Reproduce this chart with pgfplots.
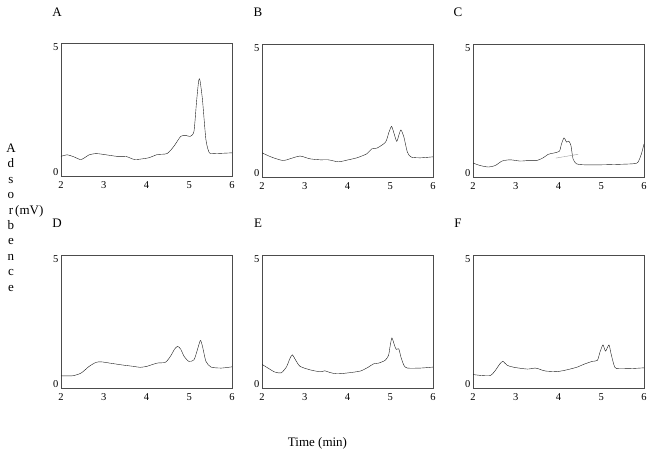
\documentclass[border=0pt]{standalone}
\usepackage{fontspec}
\setmainfont{Liberation Serif}
\usepackage{pgfplots}
\pgfplotsset{compat=1.18}

\pgfplotsset{
  chrom/.style={
    scale only axis, width=171pt, height=133pt,
    anchor=south west,
    xmin=2, xmax=6, ymin=-0.17, ymax=5.17,
    xtick={2,3,4,5,6}, ytick={0,5},
    major tick length=0pt,
    axis line style={draw=black!70, line width=0.6pt},
    tick label style={font=\fontsize{10.5}{12}\selectfont},
    /pgf/number format/assume math mode=true,
    xticklabel style={yshift=-2pt},
    yticklabel style={xshift=1pt},
    cycle list={{black!90, no marks, line width=0.7pt}},
    every axis plot/.append style={smooth, tension=0.4},
  },
}

\begin{document}
\begin{tikzpicture}
\useasboundingbox (0,0) rectangle (654pt,454pt);

% A
\begin{axis}[chrom, at={(61pt,278pt)}]
\addplot coordinates {(2,0.62) (2.15,0.68) (2.30,0.60) (2.47,0.49) (2.66,0.68) (2.82,0.73) (2.98,0.70)
 (3.30,0.62) (3.53,0.61) (3.73,0.49) (4.05,0.56) (4.25,0.69) (4.48,0.73) (4.64,1.02) (4.80,1.42)
 (4.92,1.46) (5.02,1.42) (5.11,1.62) (5.17,2.80) (5.22,3.65) (5.25,3.68) (5.31,2.88) (5.39,1.29) (5.47,0.76)
 (5.59,0.73) (6,0.76)};
\end{axis}

% B
\begin{axis}[chrom, at={(262pt,277pt)}]
\addplot coordinates {(2,0.80) (2.22,0.63) (2.49,0.49) (2.65,0.56) (2.89,0.67) (3.12,0.56) (3.36,0.52)
 (3.55,0.52) (3.79,0.44) (4.02,0.52) (4.22,0.60) (4.45,0.76) (4.57,0.96) (4.69,0.99) (4.89,1.23)
 (4.97,1.63) (5.03,1.86) (5.08,1.63) (5.15,1.26) (5.20,1.50) (5.25,1.72) (5.32,1.43) (5.40,0.83)
 (5.49,0.63) (5.71,0.60) (6,0.64)};
\end{axis}

% C
\begin{axis}[chrom, at={(473pt,277pt)}]
\addplot coordinates {(2,0.39) (2.17,0.29) (2.36,0.23) (2.52,0.29) (2.68,0.47) (2.87,0.52) (3.10,0.47)
 (3.29,0.49) (3.49,0.49) (3.64,0.60) (3.76,0.74) (3.88,0.79) (4.02,0.86) (4.07,1.16) (4.13,1.40)
 (4.19,1.23) (4.24,1.27) (4.29,1.10) (4.34,0.56) (4.42,0.36) (4.58,0.32) (5.04,0.32) (5.74,0.36)
 (5.86,0.43) (5.94,0.76) (6,1.16)};
\addplot[black!40, line width=0.4pt, sharp plot] coordinates {(3.94,0.59) (4.46,0.74)};
\end{axis}

% D
\begin{axis}[chrom, at={(61pt,66pt)}]
\addplot coordinates {(2,0.32) (2.27,0.32) (2.47,0.43) (2.66,0.70) (2.82,0.86) (2.94,0.88) (3.14,0.83)
 (3.45,0.75) (3.69,0.70) (3.85,0.66) (4.01,0.70) (4.25,0.83) (4.44,0.86) (4.56,1.10) (4.66,1.40)
 (4.73,1.50) (4.80,1.39) (4.88,1.10) (4.99,0.90) (5.11,0.96) (5.19,1.36) (5.26,1.74) (5.31,1.50)
 (5.39,0.90) (5.51,0.67) (5.75,0.63) (6,0.68)};
\end{axis}

% E
\begin{axis}[chrom, at={(262pt,66pt)}]
\addplot coordinates {(2,0.78) (2.14,0.63) (2.30,0.47) (2.45,0.44) (2.57,0.67) (2.65,1.00) (2.71,1.16)
 (2.79,0.94) (2.89,0.70) (3.12,0.56) (3.36,0.48) (3.47,0.52) (3.59,0.45) (3.75,0.40) (3.98,0.43)
 (4.30,0.51) (4.49,0.67) (4.61,0.80) (4.73,0.83) (4.88,0.94) (4.96,1.14) (5.00,1.54) (5.04,1.84)
 (5.10,1.54) (5.14,1.38) (5.20,1.40) (5.25,1.07) (5.32,0.74) (5.40,0.63) (5.71,0.63) (6,0.67)};
\end{axis}

% F
\begin{axis}[chrom, at={(473pt,66pt)}]
\addplot coordinates {(2,0.37) (2.21,0.33) (2.41,0.33) (2.52,0.53) (2.63,0.80) (2.70,0.90) (2.80,0.74)
 (2.96,0.66) (3.27,0.59) (3.46,0.63) (3.58,0.57) (3.70,0.51) (3.97,0.49) (4.20,0.56) (4.44,0.67)
 (4.59,0.78) (4.79,0.90) (4.91,0.94) (4.97,1.27) (5.04,1.56) (5.10,1.31) (5.18,1.56) (5.23,1.20)
 (5.30,0.74) (5.36,0.61) (5.69,0.61) (6,0.64)};
\end{axis}

% panel letters and axis titles
\begin{scope}[every node/.style={font=\fontsize{13}{15}\selectfont, inner sep=0pt}]
\node at (57pt,442pt) {A};
\node at (258pt,442pt) {B};
\node at (458pt,442pt) {C};
\node at (57pt,231pt) {D};
\node at (258pt,231pt) {E};
\node at (458pt,231pt) {F};
\foreach \l [count=\i] in {A,d,s,o,r,b,e,n,c,e}
  \node[anchor=base] at (11pt,{(454-152.5-(\i-1)*15.4)*1pt}) {\l};
\node[anchor=base west] at (15pt,{(454-152.5-4*15.4)*1pt}) {(mV)};
\node at (317.5pt,11pt) {Time (min)};
\end{scope}
\end{tikzpicture}
\end{document}
